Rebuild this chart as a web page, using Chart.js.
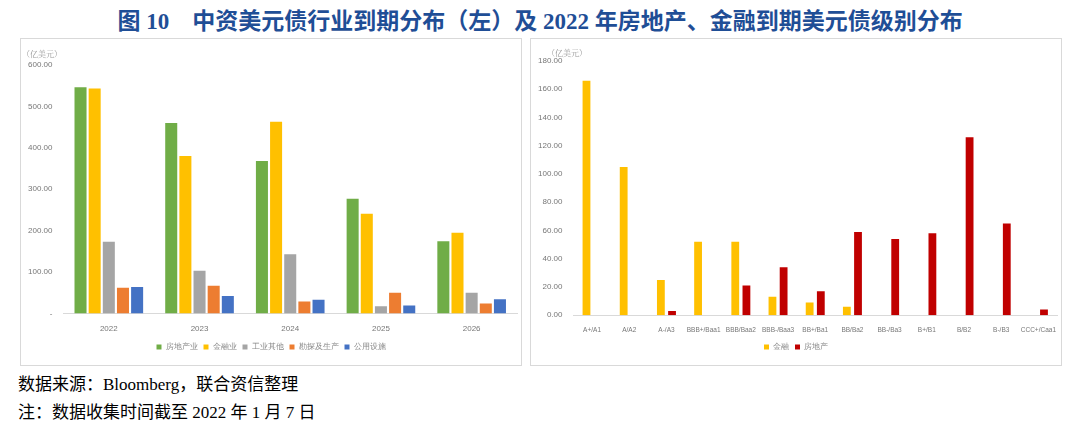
<!DOCTYPE html>
<html><head><meta charset="utf-8">
<script src="https://cdn.jsdelivr.net/npm/chart.js@4/dist/chart.umd.min.js"></script>
<style>
body{margin:0;width:1080px;height:428px;background:#fff;position:relative;overflow:hidden;font-family:"Noto Serif CJK SC","Noto Sans CJK SC",serif}
#title{position:absolute;top:2px;left:0;width:1080px;text-align:center;font-size:23px;font-weight:bold;color:#1f4e96;font-family:"Liberation Serif","Noto Sans CJK SC",serif}
.panel{position:absolute;top:38px;height:326px;border:1px solid #d9d9d9}
.unit{position:absolute;font-size:8px;color:#999}
.foot{position:absolute;left:18px;font-size:17px;color:#000;font-family:"Liberation Serif","Noto Sans CJK SC",serif}
</style></head><body>
<div id="title">图 10　中资美元债行业到期分布（左）及 2022 年房地产、金融到期美元债级别分布</div>
<div class="panel" style="left:20px;width:500px"><canvas id="c1"></canvas></div>
<div class="panel" style="left:530px;width:530px"><canvas id="c2"></canvas></div>
<div class="unit" style="left:22px;top:48px">（亿美元）</div>
<div class="unit" style="left:547px;top:47px">（亿美元）</div>
<div class="foot" style="top:370px">数据来源：Bloomberg，联合资信整理</div>
<div class="foot" style="top:398px">注：数据收集时间截至 2022 年 1 月 7 日</div>
<script>
const years=["2022","2023","2024","2025","2026"];
const sectorNames=["房地产业","金融业","工业其他","勘探及生产","公用设施"];
const realEstate=[546,460,368,277,174];
const finance=[543,380,463,241,195];
const industry=[173,103,143,17,50];
const explore=[62,67,29,50,24];
const utility=[64,42,33,19,34];
const leftTicks=[0,100,200,300,400,500,600];
const ratings=["A+/A1","A/A2","A-/A3","BBB+/Baa1","BBB/Baa2","BBB-/Baa3","BB+/Ba1","BB/Ba2","BB-/Ba3","B+/B1","B/B2","B-/B3","CCC+/Caa1"];
const ratingNames=["金融","房地产"];
const finByRating=[166,105,25,52,52,13,9,6,0,0,0,0,0];
const reByRating=[0,0,3,0,21,34,17,59,54,58,126,65,4];
const rightTicks=[0,20,40,60,80,100,120,140,160,180];
const colors=["#70ad47","#ffc000","#a5a5a5","#ed7d31","#4472c4"];
const tickFont={size:8,family:"Liberation Sans"};
function opts(max,step,fmt,padTop,xfont,lpad){
 return {responsive:false,animation:false,
 layout:{padding:{top:padTop,left:4,right:4,bottom:4}},
 plugins:{legend:{position:'bottom',labels:{boxWidth:5,boxHeight:5,font:{size:8},color:'#888',padding:lpad}},tooltip:{enabled:false}},
 scales:{x:{grid:{display:false},border:{color:'#d9d9d9'},ticks:{font:xfont,color:'#777',maxRotation:0,minRotation:0,autoSkip:false}},
 y:{min:0,max:max,ticks:{stepSize:step,font:tickFont,color:'#777',callback:fmt},grid:{display:false},border:{display:false}}}};
}
const cv1=document.getElementById('c1');cv1.width=500;cv1.height=326;
new Chart(cv1,{type:'bar',data:{labels:years,datasets:[realEstate,finance,industry,explore,utility].map((d,i)=>({label:sectorNames[i],data:d,backgroundColor:colors[i],categoryPercentage:0.78,barPercentage:0.85}))},
 options:opts(600,100,v=>v===0?'-':v.toFixed(2),26,tickFont,6)});
const cv2=document.getElementById('c2');cv2.width=530;cv2.height=326;
new Chart(cv2,{type:'bar',data:{labels:ratings,datasets:[finByRating,reByRating].map((d,i)=>({label:ratingNames[i],data:d,backgroundColor:i?'#c00000':'#ffc000',categoryPercentage:0.6,barPercentage:0.7}))},
 options:opts(180,20,v=>v.toFixed(2),22,{size:6.5,family:"Liberation Sans"},6)});
</script></body></html>
